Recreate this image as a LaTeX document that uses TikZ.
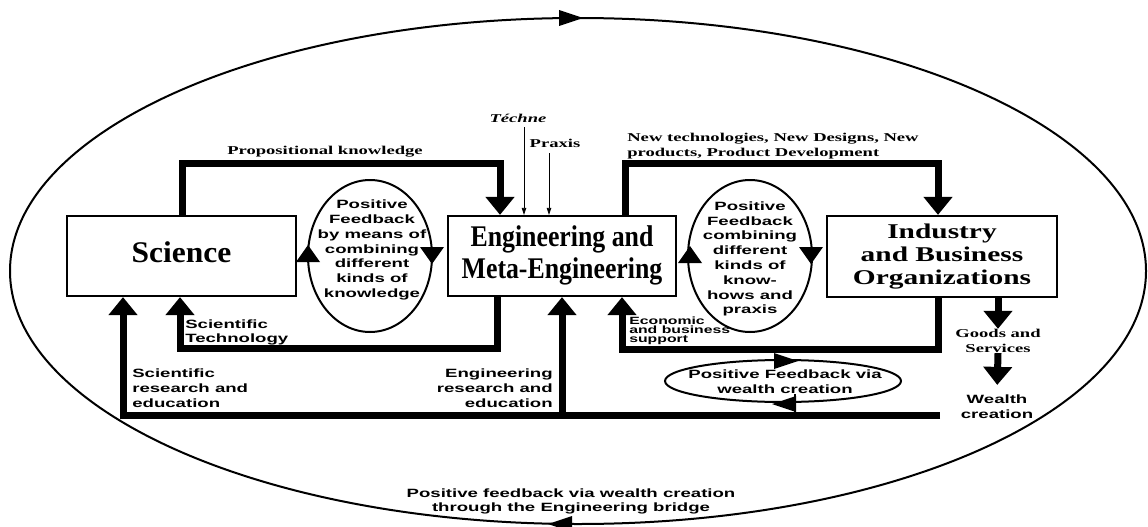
\documentclass[tikz,border=0pt]{standalone}
\usepackage{fontspec}
\setmainfont{Liberation Serif}
\setsansfont{Liberation Sans}
\usetikzlibrary{arrows.meta}
\newcommand\widetext[3]{\scalebox{#1}[1]{\begin{tabular}{@{}#2@{}}#3\end{tabular}}}
\newcommand\tipup[1]{\fill (#1) -- ++(-12,17) -- ++(24,0) -- cycle;}
\newcommand\tipdown[1]{\fill (#1) -- ++(-12,-17) -- ++(24,0) -- cycle;}
\newcommand\tipright[1]{\fill (#1) -- ++(-24,-8) -- ++(0,16) -- cycle;}
\newcommand\tipleft[1]{\fill (#1) -- ++(24,-8) -- ++(0,16) -- cycle;}
\begin{document}
\begin{tikzpicture}[x=1pt,y=-1pt,
  box/.style={draw, line width=2.2pt, inner sep=0pt, minimum height=80pt, minimum width=229pt},
  sl/.style={font=\sffamily\bfseries\fontsize{12}{14.8}\selectfont, xscale=1.55, inner sep=0pt, align=center},
  rl/.style={font=\bfseries\fontsize{12}{15.5}\selectfont, xscale=1.55, inner sep=0pt, align=center},
  flow/.style={line width=7pt, -{Triangle[length=18pt,width=28pt]}},
  ring/.style={line width=2pt},
  pin/.style={line width=0.8pt, -{Triangle[length=7pt,width=4.5pt]}}
]
\useasboundingbox (0,0) rectangle (1148,527);

% outer loop
\coordinate (world) at (578,271);
\draw[ring] (world) ellipse [x radius=568, y radius=253];
\tipright{583,18}
\tipleft{548,524}

% boxes
\node[box, font=\bfseries\fontsize{30}{32}\selectfont] (sci) at (181.5,256) {\widetext{1.05}{c}{Science}};
\node[box, minimum width=228pt, font=\bfseries\fontsize{30}{32}\selectfont] (eng) at (562,256) {\widetext{0.86}{c}{Engineering and\\Meta-Engineering}};
\node[box, minimum width=230pt, minimum height=81pt, font=\bfseries\fontsize{21}{23}\selectfont] (ind) at (942,256.5) {\widetext{1.4}{c}{Industry\\and Business\\Organizations}};

% feedback ovals
\coordinate (lo) at (370,256);
\coordinate (ro) at (750,256);
\coordinate (wo) at (783,381);
\draw[ring] (lo) ellipse [x radius=62, y radius=76];
\draw[ring] (ro) ellipse [x radius=62, y radius=76];
\draw[ring] (wo) ellipse [x radius=118, y radius=21];
\tipup{308,245}
\tipdown{432,264}
\tipup{690,246}
\tipdown{811,264}
\tipright{798,361}
\tipleft{772,404}
\draw[line width=2pt] (795,394) -- (795,415);

\node[sl] (lt) at (372,250) {Positive\\Feedback\\by means of\\combining\\different\\kinds of\\knowledge};
\node[sl] (rt) at (750,259) {Positive\\Feedback\\combining\\different\\kinds of\\know-\\hows and\\praxis};
\node[sl] (wt) at (785,382) {Positive Feedback via\\wealth creation};

% labels
\node[rl] (prop) at (325,152) {Propositional knowledge};
\node[rl, anchor=west, align=left] (newt) at (627,146) {New technologies, New Designs, New\\products, Product Development};
\node[rl, font=\bfseries\itshape\fontsize{12}{15}\selectfont] (techne) at (518,118) {Téchne};
\node[rl] (praxis) at (555,143) {Praxis};
\node[sl, anchor=west, align=left, font=\sffamily\bfseries\fontsize{12}{14}\selectfont] (stech) at (185,332) {Scientific\\Technology};
\node[sl, anchor=west, align=left, font=\sffamily\bfseries\fontsize{10.5}{9.2}\selectfont, xscale=0.97] (econ) at (629,331) {Economic\\and business\\support};
\node[sl, anchor=west, align=left, font=\sffamily\bfseries\fontsize{12}{15}\selectfont] (sres) at (132,388) {Scientific\\research and\\education};
\node[sl, anchor=east, align=right, font=\sffamily\bfseries\fontsize{12}{15}\selectfont] (eres) at (553,388) {Engineering\\research and\\education};
\node[rl] (goods) at (998,341) {Goods and\\Services};
\node[sl, font=\sffamily\bfseries\fontsize{12}{15}\selectfont] (wealth) at (997,407) {Wealth\\creation};
\node[sl, font=\sffamily\bfseries\fontsize{12}{14}\selectfont] (bt) at (571,501) {Positive feedback via wealth creation\\through the Engineering bridge};

% thin inputs
\draw[pin] ([xshift=6pt,yshift=-5pt]techne.south) -- ([xshift=6pt]techne.south |- eng.north);
\draw[pin] ([xshift=-6pt,yshift=-6pt]praxis.south) -- ([xshift=-6pt]praxis.south |- eng.north);

% thick flows
\coordinate (pk1) at (182,163); \coordinate (pk2) at (500,163);
\draw[flow] (sci.north -| pk1) -- (pk1) -- (pk2) -- (eng.north -| pk2);
\coordinate (nt1) at (625,163); \coordinate (nt2) at (938,163);
\draw[flow] (eng.north -| nt1) -- (nt1) -- (nt2) -- (ind.north -| nt2);
\coordinate (st1) at (497,348); \coordinate (st2) at (180,348);
\draw[flow] (eng.south -| st1) -- (st1) -- (st2) -- (sci.south -| st2);
\coordinate (ec1) at (938,349); \coordinate (ec2) at (622,349);
\draw[flow] (ind.south -| ec1) -- (ec1) -- (ec2) -- (eng.south -| ec2);
\coordinate (wb) at (940,415); \coordinate (sr) at (123,415); \coordinate (er) at (562,418.5);
\draw[flow] (wb) -- (sr) -- (sci.south -| sr);
\draw[flow] (er) -- (eng.south -| er);
\draw[flow] (ind.south -| goods) -- (goods.north);
\draw[flow, shorten >=10pt] (goods.south) -- (wealth.north);
\end{tikzpicture}
\end{document}
